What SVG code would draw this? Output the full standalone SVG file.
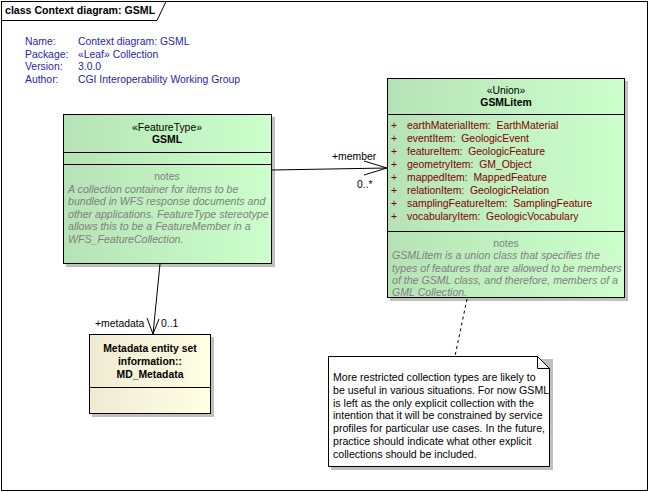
<svg xmlns="http://www.w3.org/2000/svg" width="649" height="492" viewBox="0 0 649 492">
<style>
text{font-family:"Liberation Sans",Arial,sans-serif;font-size:10.4px;fill:#000;white-space:pre}
.t{font-size:10.6px}
.hdr{fill:#1f1fa8}
.b{font-weight:bold}
.c{text-anchor:middle}
.n{fill:#808080}
.ni{fill:#808080;font-style:italic;font-size:10.6px}
.a{fill:#800000}
.nt{font-size:10.6px}
.box{stroke:#000;stroke-width:1}
.sh{fill:#c0c0c0}
.ln{stroke:#000;stroke-width:1;fill:none}
</style>
<defs>
<linearGradient id="gg" x1="0" y1="0" x2="1" y2="0">
<stop offset="0" stop-color="#b6e3b6"/>
<stop offset="1" stop-color="#ccffcc"/>
</linearGradient>
<linearGradient id="gy" x1="0" y1="0" x2="1" y2="0">
<stop offset="0" stop-color="#efebd3"/>
<stop offset="1" stop-color="#ffffe3"/>
</linearGradient>
</defs>
<rect x="0" y="0" width="649" height="492" fill="#fff"/>
<g id="frame">
<rect x="1.5" y="1.5" width="646" height="489" fill="none" stroke="#000"/>
<path d="M1.5 20.5 H157 L166 1.5" class="ln"/>
<text x="5" y="14" class="b t">class Context diagram: GSML</text>
</g>
<g id="info">
<text x="25" y="45" class="hdr">Name:</text><text x="78" y="45" class="hdr">Context diagram: GSML</text>
<text x="25" y="57.5" class="hdr">Package:</text><text x="78" y="57.5" class="hdr">«Leaf» Collection</text>
<text x="25" y="70" class="hdr">Version:</text><text x="78" y="70" class="hdr">3.0.0</text>
<text x="25" y="82.5" class="hdr">Author:</text><text x="78" y="82.5" class="hdr">CGI Interoperability Working Group</text>
</g>
<g id="GSML">
<rect x="66" y="117" width="209" height="150" class="sh"/>
<rect x="63.5" y="114.5" width="208" height="149" fill="url(#gg)" class="box"/>
<line x1="63.5" y1="152.5" x2="271.5" y2="152.5" class="ln"/>
<line x1="63.5" y1="164.5" x2="271.5" y2="164.5" class="ln"/>
<text x="167" y="131" class="c">«FeatureType»</text>
<text x="167" y="143" class="c b">GSML</text>
<text x="167" y="180" class="c n">notes</text>
<text x="68" y="192.5" class="ni">A collection container for items to be</text>
<text x="68" y="205" class="ni">bundled in WFS response documents and</text>
<text x="68" y="217.5" class="ni">other applications. FeatureType stereotype</text>
<text x="68" y="230" class="ni">allows this to be a FeatureMember in a</text>
<text x="68" y="242.5" class="ni">WFS_FeatureCollection.</text>
</g>
<g id="GSMLitem">
<rect x="390" y="81" width="238" height="220" class="sh"/>
<rect x="387.5" y="78.5" width="237" height="219" fill="url(#gg)" class="box"/>
<line x1="387.5" y1="114.5" x2="624.5" y2="114.5" class="ln"/>
<line x1="387.5" y1="231.5" x2="624.5" y2="231.5" class="ln"/>
<text x="506" y="94" class="c">«Union»</text>
<text x="506" y="106" class="c b">GSMLitem</text>
<text x="391" y="129" class="a">+</text><text x="407" y="129" class="a">earthMaterialItem:  EarthMaterial</text>
<text x="391" y="142" class="a">+</text><text x="407" y="142" class="a">eventItem:  GeologicEvent</text>
<text x="391" y="155" class="a">+</text><text x="407" y="155" class="a">featureItem:  GeologicFeature</text>
<text x="391" y="168" class="a">+</text><text x="407" y="168" class="a">geometryItem:  GM_Object</text>
<text x="391" y="181" class="a">+</text><text x="407" y="181" class="a">mappedItem:  MappedFeature</text>
<text x="391" y="194" class="a">+</text><text x="407" y="194" class="a">relationItem:  GeologicRelation</text>
<text x="391" y="207" class="a">+</text><text x="407" y="207" class="a">samplingFeatureItem:  SamplingFeature</text>
<text x="391" y="220" class="a">+</text><text x="407" y="220" class="a">vocabularyItem:  GeologicVocabulary</text>
<text x="506" y="247" class="c n">notes</text>
<text x="392" y="259" class="ni">GSMLitem is a union class that specifies the</text>
<text x="392" y="271.5" class="ni">types of features that are allowed to be members</text>
<text x="392" y="284" class="ni">of the GSML class, and therefore, members of a</text>
<text x="392" y="296" class="ni">GML Collection.</text>
</g>
<g id="MD_Metadata">
<rect x="92" y="337" width="122" height="80" class="sh"/>
<rect x="89.5" y="334.5" width="121" height="79" fill="url(#gy)" class="box"/>
<line x1="89.5" y1="387.5" x2="210.5" y2="387.5" class="ln"/>
<text x="150" y="352" class="c b">Metadata entity set</text>
<text x="150" y="365" class="c b">information::</text>
<text x="150" y="378" class="c b">MD_Metadata</text>
</g>
<g id="note">
<path d="M331 359 H553 V470 H331 Z" class="sh"/>
<path d="M328.5 356.5 H537.5 L549.5 368.5 V466.5 H328.5 Z" fill="#fff" class="box"/>
<path d="M537.5 356.5 V368.5 H549.5" class="ln"/>
<text x="333" y="381" class="nt">More restricted collection types are likely to</text>
<text x="333" y="393.8" class="nt">be useful in various situations. For now GSML</text>
<text x="333" y="406.6" class="nt">is left as the only explicit collection with the</text>
<text x="333" y="419.4" class="nt">intention that it will be constrained by service</text>
<text x="333" y="432.2" class="nt">profiles for particular use cases. In the future,</text>
<text x="333" y="445" class="nt">practice should indicate what other explicit</text>
<text x="333" y="457.8" class="nt">collections should be included.</text>
</g>
<g id="connectors">
<line x1="272" y1="170" x2="387" y2="168" class="ln"/>
<path d="M364 161 L387 168 L364 175" class="ln"/>
<text x="332" y="160">+member</text>
<text x="357" y="188">0..*</text>
<line x1="160" y1="264" x2="153" y2="334" class="ln"/>
<path d="M147 318 L153 334 L159 319" class="ln"/>
<text x="95" y="327">+metadata</text>
<text x="161" y="327">0..1</text>
<line x1="467" y1="299" x2="455" y2="356" stroke="#000" stroke-dasharray="3,3"/>
</g>
</svg>
